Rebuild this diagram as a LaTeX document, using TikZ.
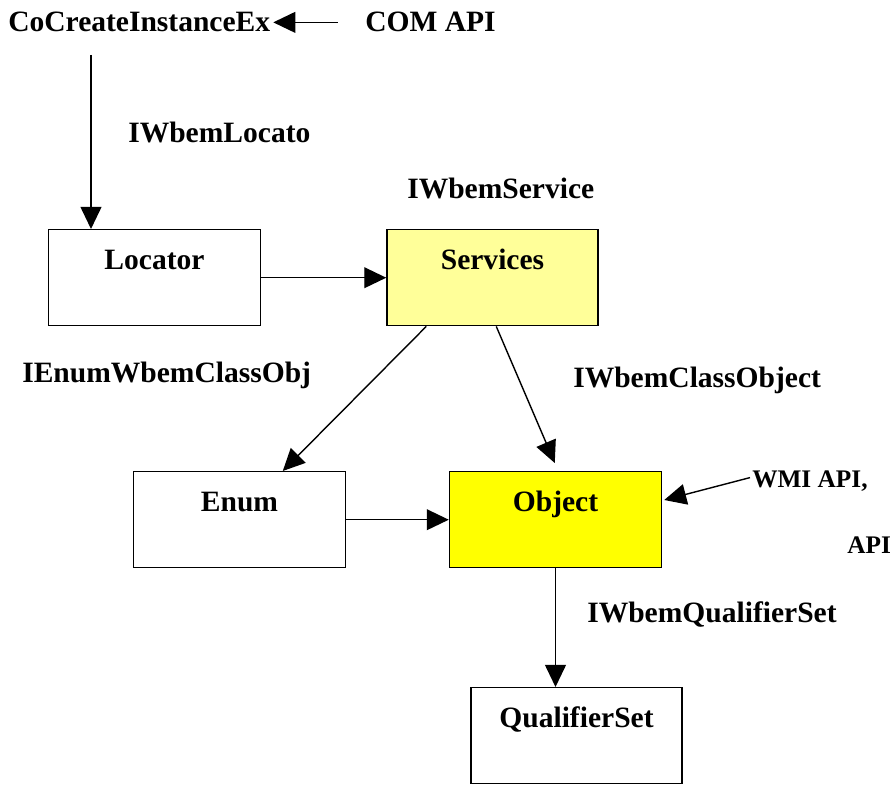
\documentclass[tikz,border=0pt]{standalone}
\usepackage{fontspec}
\setmainfont{Liberation Serif}
\usepackage{tikz}
\usetikzlibrary{arrows.meta,positioning,calc}
\usepackage{xcolor}
\definecolor{wmiyellow}{RGB}{255,255,0}
\definecolor{wmilightyellow}{RGB}{255,255,153}
\tikzstyle{arrow} = [line width=1pt,-{Triangle[length=0.55cm,width=0.52cm]}]
\tikzstyle{wmibox} = [rectangle, draw=black, line width=1pt, fill=white, anchor=north, inner sep=0pt, minimum width=5.3cm, text height=1cm, text depth=1.4cm, font=\fontsize{21}{25}\selectfont\bfseries]
\tikzstyle{wmilabel} = [anchor=base west, inner sep=0pt, font=\fontsize{21}{25}\selectfont\bfseries]
\begin{document}
\begin{tikzpicture}[x=0.025cm, y=-0.025cm]
\useasboundingbox (0,0) rectangle (896,787);
% Top line
\node (cocreate) [wmilabel] at (8,32) {CoCreateInstanceEx};
\node (comapi) [wmilabel] at (365,32) {COM API};
\coordinate (locstart) at (91,55);

% Boxes
\node (locator) [wmibox] at (154.5,229) {Locator};
\node (services) [wmibox, minimum width=5.275cm, fill=wmilightyellow] at (492.5,229) {Services};
\node (enum) [wmibox] at (239.5,471) {Enum};
\node (object) [wmibox, fill=wmiyellow] at (555.5,471) {Object};
\node (qualset) [wmibox, minimum width=5.275cm] at (576.5,687) {QualifierSet};

% Interfaces
\node (locato) [wmilabel] at (128,143) {IWbemLocato};
\node (service) [wmilabel] at (407,199) {IWbemService};
\node (enumobj) [wmilabel] at (22,383) {IEnumWbemClassObj};
\node (classobj) [wmilabel] at (573,388) {IWbemClassObject};
\node (wmiapi) [wmilabel, font=\fontsize{18}{22}\selectfont\bfseries] at (752,488) {WMI API,};
\node (api) [wmilabel, font=\fontsize{18}{22}\selectfont\bfseries] at (847,554) {API};
\node (qualifier) [wmilabel] at (587,622) {IWbemQualifierSet};

\draw[arrow, shorten <=0.68cm, shorten >=2pt] (comapi.west) -- (cocreate.east);
\draw[arrow] (locstart) -- (locstart |- locator.north);
\draw[arrow] (locator.east) -- (services.west);
\draw[arrow] ($(services.south west)+(40,0)$) -- ($(enum.north west)+(150,0)$);
\draw[arrow] ($(services.south west)+(110,0)$) -- ($(object.north west)+(106,-8)$);
\draw[arrow] (enum.east) -- (object.west);
\draw[arrow] ($(wmiapi.west)+(-2,-4)$) -- ($(object.north east)+(2,29)$);
\draw[arrow] (object.south) -- (object.south |- qualset.north);
\end{tikzpicture}
\end{document}
